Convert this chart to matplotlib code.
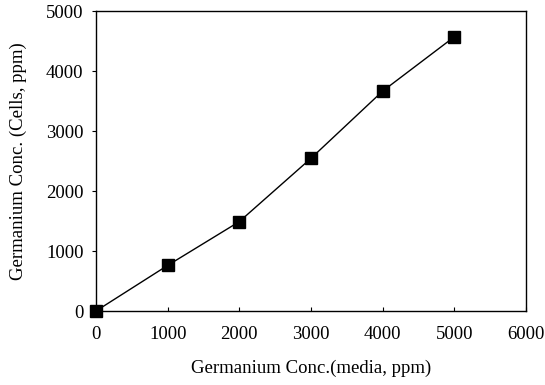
import matplotlib
matplotlib.use('Agg')
import matplotlib.pyplot as plt

# germanium in media vs. germanium taken up by cells
mediaConc = [0, 1000, 2000, 3000, 4000, 5000]
cellConc = [0, 760, 1490, 2545, 3665, 4570]
xTicks = [0, 1000, 2000, 3000, 4000, 5000, 6000]
yTicks = [0, 1000, 2000, 3000, 4000, 5000]

plt.rcParams['font.family'] = 'Liberation Serif'
fs = 13.5

fig = plt.figure(figsize=(5.45, 3.85), dpi=100)
ax = fig.add_axes([96/545, 1 - 311/385, 430/545, 300/385])

ax.plot(mediaConc, cellConc, color='black', linewidth=1.0,
        marker='s', markersize=8.5, markerfacecolor='black',
        markeredgecolor='black', clip_on=False, zorder=3)

ax.set_xlim(0, 6000)
ax.set_ylim(0, 5000)
ax.set_xticks(xTicks)
ax.set_yticks(yTicks)
ax.tick_params(axis='x', direction='in', length=3, width=0.8, pad=11, labelsize=fs)
ax.tick_params(axis='y', direction='out', length=3, width=0.8, pad=6, labelsize=fs)
for sp in ax.spines.values():
    sp.set_linewidth(1.0)

ax.set_xlabel('Germanium Conc.(media, ppm)', fontsize=fs, labelpad=12)
ax.set_ylabel('Germanium Conc. (Cells, ppm)', fontsize=fs, labelpad=14)

fig.savefig('out.png', dpi=100)
